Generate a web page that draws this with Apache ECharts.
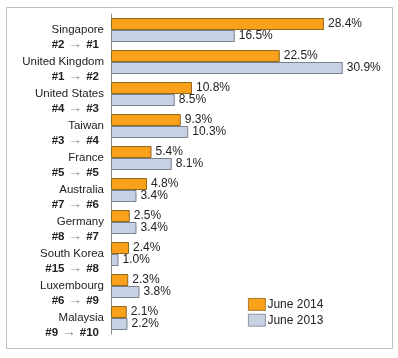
<!DOCTYPE html>
<html>
<head>
<meta charset="utf-8">
<script src="https://cdn.jsdelivr.net/npm/echarts@6/dist/echarts.min.js"></script>
<style>
html,body{margin:0;padding:0;background:#fff;}
#chart{width:398px;height:358px;}
</style>
</head>
<body>
<div id="chart"></div>
<script>
const countries = ['Singapore','United Kingdom','United States','Taiwan','France','Australia','Germany','South Korea','Luxembourg','Malaysia'];
const rankFrom = ['#2','#1','#4','#3','#5','#7','#8','#15','#6','#9'];
const rankTo = ['#1','#2','#3','#4','#5','#6','#7','#8','#9','#10'];
const june2014 = [28.4,22.5,10.8,9.3,5.4,4.8,2.5,2.4,2.3,2.1];
const june2013 = [16.5,30.9,8.5,10.3,8.1,3.4,3.4,1.0,3.8,2.2];
const seriesNames = ['June 2014','June 2013'];

const chart = echarts.init(document.getElementById('chart'));
const font = 'Arial, "Liberation Sans", sans-serif';
const valueLabel = {
  show: true, position: 'right', distance: 4,
  formatter: p => p.value.toFixed(1) + '%',
  color: '#222', fontSize: 12, fontFamily: font
};
chart.setOption({
  animation: false,
  graphic: [{
    type: 'rect', shape: {x: 6.5, y: 7.5, width: 386, height: 341},
    style: {fill: 'none', stroke: '#bdbdbd', lineWidth: 1}, z: -1
  }],
  grid: {left: 111, top: 14, width: 270, height: 320, containLabel: false},
  legend: {
    orient: 'vertical', left: 243, top: 293,
    icon: 'rect',
    itemWidth: 17, itemHeight: 12, itemGap: 3,
    itemStyle: {borderWidth: 0.8},
    textStyle: {fontSize: 12, color: '#222', fontFamily: font, padding: [0,0,0,-3]},
    data: seriesNames
  },
  xAxis: {type: 'value', min: 0, max: 36, show: false},
  yAxis: {
    type: 'category', inverse: true, data: countries,
    axisLine: {lineStyle: {color: '#8a8a8a', width: 1}},
    axisTick: {show: false},
    axisLabel: {
      margin: 7,
      formatter: (v, i) => '{name|' + v + '}\n{rk|' + rankFrom[i] + '}{ar| → }{rk|' + rankTo[i] + '}{pd|}',
      padding: [14, 0, 0, 0],
      rich: {
        name: {fontSize: 11.5, color: '#222', fontFamily: font, lineHeight: 15, align: 'right'},
        rk: {fontSize: 11.5, color: '#222', fontWeight: 'bold', fontFamily: font, lineHeight: 15},
        ar: {fontSize: 14, color: '#8c8c8c', fontFamily: font, lineHeight: 15},
        pd: {width: 5}
      }
    }
  },
  series: [
    {
      name: seriesNames[0], type: 'bar', data: june2014, barWidth: 12, barGap: '0%',
      itemStyle: {color: '#F9A11B', borderColor: '#94661a', borderWidth: 1},
      label: valueLabel
    },
    {
      name: seriesNames[1], type: 'bar', data: june2013, barWidth: 12, barGap: '0%',
      itemStyle: {color: '#C6D1E4', borderColor: '#7c828d', borderWidth: 1},
      label: valueLabel
    }
  ]
});
</script>
</body>
</html>
